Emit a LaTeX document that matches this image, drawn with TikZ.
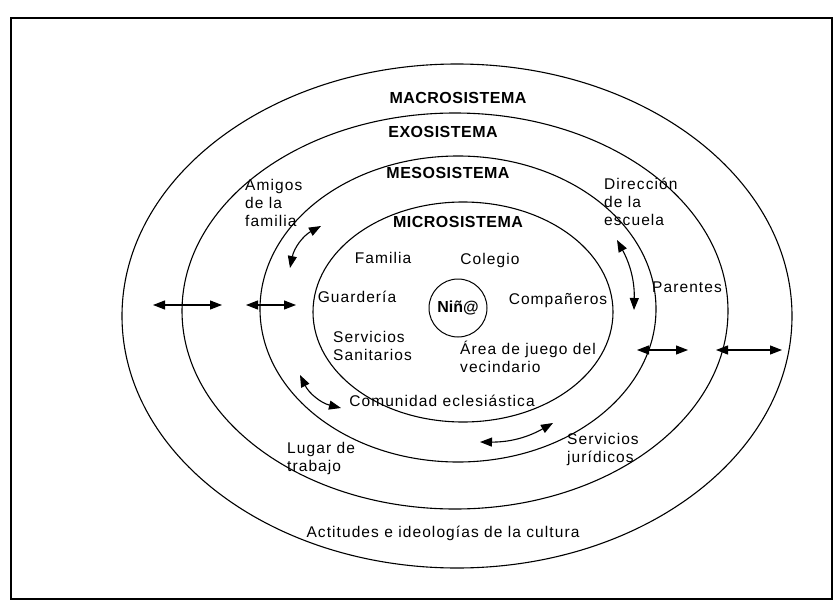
\documentclass[tikz,border=0pt]{standalone}
\usepackage{fontspec}
\setmainfont{Liberation Sans}
\usetikzlibrary{arrows.meta}

\tikzset{
  ring/.style={line width=1.1pt},
  sysname/.style={font=\fontsize{16}{16}\selectfont\bfseries\addfontfeature{LetterSpace=3}, inner sep=0pt},
  lbl/.style={font=\fontsize{15.5}{18}\selectfont\addfontfeature{LetterSpace=7}, align=left, inner sep=0pt},
  link/.style={line width=1.1pt, {Triangle[length=12pt,width=9pt]}-{Triangle[length=12pt,width=9pt]}},
}

\begin{document}
\begin{tikzpicture}[x=1pt, y=-1pt]
    \useasboundingbox (0,0) rectangle (835,610);
    \draw[line width=1.6pt] (11,18) rectangle (832,599);

    % The four systems
    \draw[ring] (457,316) ellipse [x radius=335, y radius=252];
    \draw[ring] (455,311) ellipse [x radius=273, y radius=198];
    \draw[ring] (458,309) ellipse [x radius=198, y radius=153];
    \draw[ring] (463,312) ellipse [x radius=150, y radius=110];
    \node[sysname] (macro) at (458,98) {MACROSISTEMA};
    \node[sysname] (exo) at (443,132) {EXOSISTEMA};
    \node[sysname] (meso) at (448,173) {MESOSISTEMA};
    \node[sysname] (micro) at (458,222) {MICROSISTEMA};

    % Child in the middle
    \node[draw, circle, line width=1pt, minimum size=58pt, inner sep=0pt,
          font=\fontsize{16}{16}\selectfont\bfseries] (nino) at (458,308) {Niñ@};

    % Microsystem
    \node[lbl] (familia) at (383,258) {Familia};
    \node[lbl] (colegio) at (490,260) {Colegio};
    \node[lbl] (guarderia) at (357,297) {Guardería};
    \node[lbl] (companeros) at (558,301) {Compañeros};
    \node[lbl, anchor=west] (sanitarios) at (333,346) {Servicios\\Sanitarios};
    \node[lbl, anchor=west] (juego) at (460,357) {Área de juego del\\vecindario};
    \node[lbl] (comunidad) at (442,401) {Comunidad eclesiástica};

    % Exosystem
    \node[lbl, anchor=west] (amigos) at (245,203) {Amigos\\de la\\familia};
    \node[lbl, anchor=west] (direccion) at (604,202) {Dirección\\de la\\escuela};
    \node[lbl, anchor=west] (parentes) at (652,287) {Parentes};
    \node[lbl, anchor=west] (lugar) at (287,458) {Lugar de\\trabajo};
    \node[lbl, anchor=west] (juridicos) at (567,449) {Servicios\\jurídicos};

    % Macrosystem
    \node[lbl] (cultura) at (443,533) {Actitudes e ideologías de la cultura};

    % Links between the levels
    \coordinate (l1a) at (153,305);
    \coordinate (l1b) at (222,305);
    \coordinate (l2a) at (246,305);
    \coordinate (l2b) at (296,305);
    \coordinate (r1a) at (637,350);
    \coordinate (r1b) at (688,350);
    \coordinate (r2a) at (716,350);
    \coordinate (r2b) at (782,350);
    \coordinate (am1) at (290,268);
    \coordinate (am2) at (321,226);
    \coordinate (di1) at (617,240);
    \coordinate (di2) at (634,310);
    \coordinate (ll1) at (300,375);
    \coordinate (ll2) at (341,408);
    \coordinate (lr1) at (480,442);
    \coordinate (lr2) at (553,423);
    \draw[link] (l1a) -- (l1b);
    \draw[link] (l2a) -- (l2b);
    \draw[link] (r1a) -- (r1b);
    \draw[link] (r2a) -- (r2b);
    \draw[link] (am1) to[bend left=25] (am2);
    \draw[link] (di1) to[bend left=15] (di2);
    \draw[link] (ll1) to[bend right=25] (ll2);
    \draw[link] (lr1) to[bend right=15] (lr2);
\end{tikzpicture}
\end{document}
